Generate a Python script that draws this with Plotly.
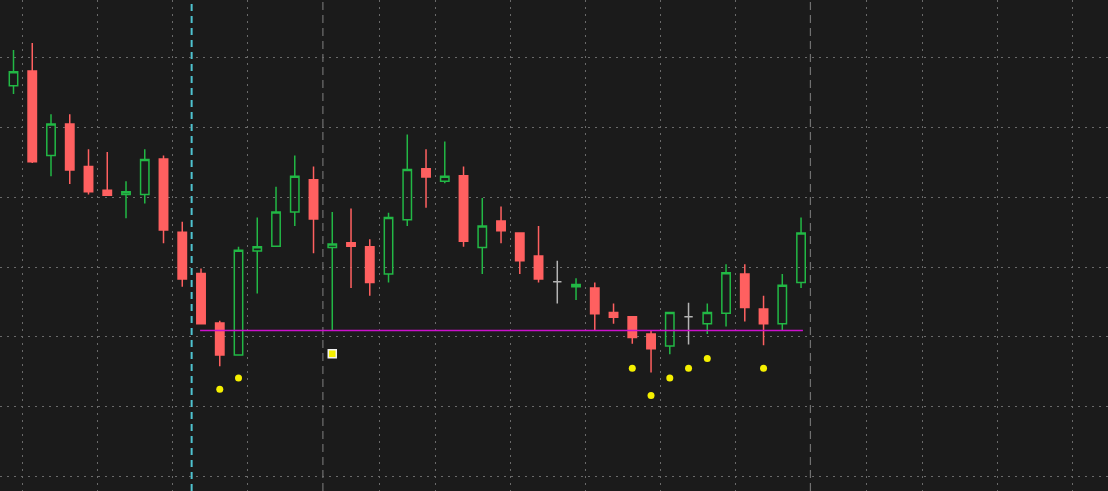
import plotly.graph_objects as go

# ---- data (bar index, OHLC) ----
idx = list(range(-1, 43))
opens = [7.72, 9.60, 9.81, 8.60, 9.05, 8.44, 8.10, 8.04, 8.04, 8.55, 7.50, 6.91, 6.20, 5.74, 7.23, 7.30,
         7.79, 8.25, 7.28, 7.35, 7.29, 6.90, 7.68, 8.41, 8.23, 8.31, 7.28, 7.66, 7.49, 7.16, 6.79, 6.72,
         6.70, 6.35, 6.29, 6.04, 5.87, 6.29, 6.19, 6.34, 6.90, 6.40, 6.19, 6.78]
highs = [9.68, 10.11, 10.21, 9.19, 9.19, 8.69, 8.65, 8.23, 8.69, 8.60, 7.65, 6.98, 6.23, 7.29, 7.71, 8.15,
         8.60, 8.44, 7.79, 7.84, 7.40, 7.78, 8.90, 8.69, 8.80, 8.44, 7.99, 7.87, 7.49, 7.59, 7.09, 6.84,
         6.78, 6.48, 6.29, 6.09, 6.35, 6.49, 6.48, 7.04, 7.04, 6.59, 6.90, 7.71]
lows = [7.65, 9.48, 8.49, 8.30, 8.19, 8.04, 8.03, 7.70, 7.91, 7.34, 6.72, 6.19, 5.58, 5.74, 6.62, 7.30,
        7.59, 7.20, 6.09, 6.70, 6.59, 6.78, 7.59, 7.85, 8.20, 7.29, 6.90, 7.34, 6.90, 6.78, 6.48, 6.53,
        6.09, 6.19, 5.90, 5.49, 5.75, 5.89, 6.04, 6.15, 6.22, 5.88, 6.09, 6.70]
closes = [9.61, 9.80, 8.51, 9.05, 8.39, 8.08, 8.03, 8.08, 8.54, 7.53, 6.83, 6.19, 5.74, 7.24, 7.29, 7.79,
          8.30, 7.69, 7.33, 7.30, 6.78, 7.71, 8.40, 8.29, 8.30, 7.37, 7.59, 7.52, 7.09, 6.83, 6.79, 6.75,
          6.33, 6.28, 5.99, 5.83, 6.35, 6.29, 6.35, 6.92, 6.42, 6.19, 6.74, 7.49]

support_level = 6.09
support_start, support_end = 9.95, 42.1

dot_idx = [11, 12, 33, 34, 35, 36, 37, 40]
dot_vals = [5.25, 5.41, 5.55, 5.16, 5.41, 5.55, 5.69, 5.55]
square_idx = [17]
square_vals = [5.76]

grid_x = [0.5, 4.5, 8.5, 12.5, 19.5, 22.5, 26.5, 30.5, 34.5, 38.5, 45.5, 48.5, 52.5, 56.5]
month_x = [16.5, 42.5]
marker_x = 9.5

BG = "#1b1b1b"
RED = "#ff6060"
GREEN = "#22b845"
GRAY = "#b4b4b4"

# split dojis (open == close) into a gray trace
norm = [k for k in range(len(idx)) if opens[k] != closes[k]]
doji = [k for k in range(len(idx)) if opens[k] == closes[k]]

def sel(arr, ks):
    return [arr[k] for k in ks]

fig = go.Figure()
fig.add_trace(go.Candlestick(
    x=sel(idx, norm), open=sel(opens, norm), high=sel(highs, norm),
    low=sel(lows, norm), close=sel(closes, norm),
    increasing=dict(line=dict(color=GREEN, width=1.5), fillcolor="rgba(0,0,0,0)"),
    decreasing=dict(line=dict(color=RED, width=1.5), fillcolor=RED),
    whiskerwidth=0, showlegend=False, hoverinfo="skip"))
fig.add_trace(go.Candlestick(
    x=sel(idx, doji), open=sel(opens, doji), high=sel(highs, doji),
    low=sel(lows, doji), close=sel(closes, doji),
    increasing=dict(line=dict(color=GRAY, width=1.5), fillcolor=GRAY),
    decreasing=dict(line=dict(color=GRAY, width=1.5), fillcolor=GRAY),
    whiskerwidth=0, showlegend=False, hoverinfo="skip"))

fig.add_trace(go.Scatter(x=[support_start, support_end], y=[support_level, support_level],
                         mode="lines", line=dict(color="#cc11cc", width=1.5),
                         showlegend=False, hoverinfo="skip"))
fig.add_trace(go.Scatter(x=dot_idx, y=dot_vals, mode="markers",
                         marker=dict(color="#f5f000", size=7, line=dict(width=0)),
                         showlegend=False, hoverinfo="skip"))
fig.add_trace(go.Scatter(x=square_idx, y=square_vals, mode="markers",
                         marker=dict(symbol="square", color="#f5f000", size=8,
                                     line=dict(color="#f0f0f0", width=1.5)),
                         showlegend=False, hoverinfo="skip"))

for mx in month_x:
    fig.add_shape(type="line", x0=mx, x1=mx, y0=0, y1=1, yref="paper", layer="below",
                  line=dict(color="#707070", width=1.2, dash="8px,5px"))
fig.add_shape(type="line", x0=marker_x, x1=marker_x, y0=0, y1=1, yref="paper", layer="below",
              line=dict(color="#4fc3d0", width=2, dash="7px,5px"))

fig.update_layout(
    width=1108, height=491, margin=dict(l=0, r=0, t=0, b=0),
    paper_bgcolor=BG, plot_bgcolor=BG, boxgap=0.36, showlegend=False,
    xaxis=dict(range=[-0.72, 58.37], rangeslider=dict(visible=False), tickvals=grid_x,
               showticklabels=False, showgrid=True, gridcolor="#6a6a6a", gridwidth=1.2,
               griddash="2px,5px", zeroline=False, showline=False, ticks=""),
    yaxis=dict(range=[3.792, 10.827], dtick=1, tick0=0, showticklabels=False, showgrid=True,
               gridcolor="#6a6a6a", gridwidth=1.2, griddash="2px,5px", zeroline=False,
               showline=False, ticks=""),
)

fig.write_html(
    "out.html",
    config={"displayModeBar": False},
    post_script="document.body.style.margin='0';document.body.style.overflow='hidden';"
                "document.body.style.background='#1b1b1b';",
)
